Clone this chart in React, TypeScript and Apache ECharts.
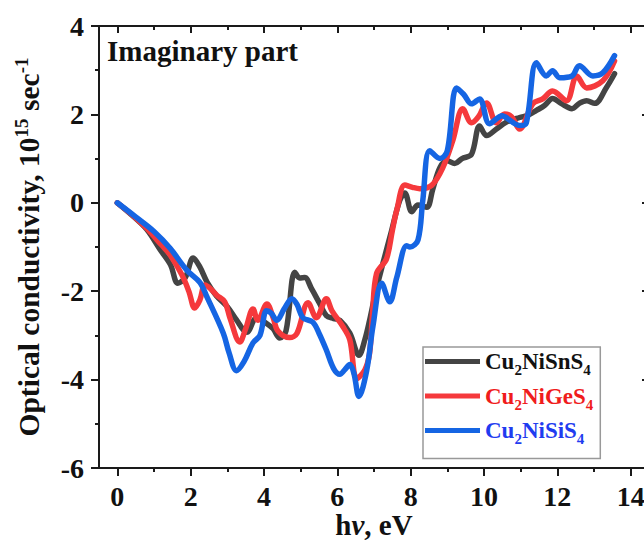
import React, { useEffect, useRef } from "react";
import * as echarts from "echarts";

const seriesNames = ["Cu2NiSnS4", "Cu2NiGeS4", "Cu2NiSiS4"];

const xSn = [0, 0.4, 0.8, 1.16, 1.45, 1.65, 1.85, 2.07, 2.25, 2.45, 2.7, 3.0, 3.25, 3.53, 3.8, 4.07, 4.25, 4.43, 4.6, 4.84, 4.97, 5.11, 5.3, 5.52, 5.7, 5.9, 6.07, 6.34, 6.59, 6.75, 6.88, 7.05, 7.24, 7.48, 7.7, 7.84, 8.03, 8.2, 8.44, 8.6, 8.8, 9.0, 9.2, 9.4, 9.66, 9.88, 10.07, 10.34, 10.6, 10.97, 11.2, 11.43, 11.65, 11.87, 12.1, 12.4, 12.6, 12.8, 13.02, 13.34, 13.56];
const ySn = [0, -0.28, -0.6, -1.05, -1.4, -1.82, -1.7, -1.25, -1.45, -1.8, -2.1, -2.35, -2.65, -2.93, -2.6, -2.73, -2.85, -3.06, -2.9, -1.57, -1.7, -1.69, -1.95, -2.28, -2.55, -2.62, -2.66, -2.95, -3.45, -3.1, -2.66, -2.0, -1.38, -0.63, 0.05, 0.22, -0.2, -0.05, -0.1, 0.3, 0.8, 0.95, 0.89, 1.0, 1.1, 1.74, 1.52, 1.67, 1.82, 1.93, 1.98, 2.09, 2.2, 2.36, 2.25, 2.13, 2.25, 2.31, 2.25, 2.61, 2.92];

const xGe = [0, 0.4, 0.8, 1.2, 1.44, 1.76, 1.95, 2.11, 2.25, 2.39, 2.55, 2.71, 2.93, 3.07, 3.34, 3.5, 3.7, 3.83, 4.08, 4.25, 4.38, 4.7, 4.9, 5.2, 5.43, 5.7, 5.85, 6.15, 6.34, 6.53, 6.75, 6.88, 6.96, 7.07, 7.34, 7.5, 7.62, 7.84, 8.05, 8.25, 8.58, 8.88, 9.15, 9.42, 9.66, 9.85, 10.07, 10.34, 10.56, 10.75, 10.97, 11.33, 11.6, 11.87, 12.25, 12.53, 12.8, 13.24, 13.56];
const yGe = [0, -0.27, -0.58, -0.95, -1.18, -1.63, -2.0, -2.38, -2.2, -1.86, -1.95, -2.09, -2.24, -2.6, -3.15, -2.85, -2.4, -2.66, -2.29, -2.6, -2.9, -3.05, -2.95, -2.26, -2.6, -2.17, -2.44, -2.8, -3.1, -3.98, -3.78, -3.4, -2.5, -1.6, -1.27, -0.63, -0.17, 0.4, 0.35, 0.32, 0.4, 0.8, 1.41, 2.13, 1.81, 1.95, 2.26, 1.81, 2.01, 1.95, 1.67, 2.24, 2.35, 2.53, 2.31, 2.87, 2.6, 2.76, 3.21];

const xSi = [0, 0.5, 1.0, 1.44, 1.9, 2.25, 2.45, 2.89, 3.05, 3.25, 3.45, 3.7, 3.89, 4.07, 4.2, 4.35, 4.55, 4.76, 4.9, 5.06, 5.33, 5.5, 5.7, 5.9, 6.07, 6.2, 6.34, 6.45, 6.59, 6.8, 6.97, 7.21, 7.43, 7.62, 7.89, 7.98, 8.2, 8.33, 8.52, 8.8, 9.0, 9.25, 9.45, 9.66, 9.88, 10.15, 10.5, 10.6, 10.97, 11.15, 11.43, 11.7, 11.87, 12.06, 12.4, 12.6, 12.97, 13.24, 13.56];
const ySi = [0, -0.32, -0.65, -1.03, -1.53, -1.8, -2.14, -2.95, -3.4, -3.8, -3.6, -3.17, -3.0, -2.44, -2.5, -2.66, -2.4, -2.17, -2.3, -2.6, -2.7, -2.95, -3.33, -3.75, -3.88, -3.78, -3.66, -3.85, -4.38, -3.8, -2.8, -1.82, -2.24, -1.69, -0.97, -1.0, -0.84, 0.05, 1.18, 1.0, 1.18, 2.6, 2.45, 2.24, 2.35, 1.79, 1.97, 1.93, 1.75, 1.8, 3.17, 2.87, 2.99, 2.83, 2.87, 3.1, 2.87, 2.94, 3.33];

const xMajorTicks = [0, 2, 4, 6, 8, 10, 12, 14];
const xMinorTicks = [1, 3, 5, 7, 9, 11, 13];

const lineColors = ["#444444", "#f5393c", "#1565e3"];
const FONT = '"Liberation Serif", "Times New Roman", serif';

const pairs = (xs: number[], ys: number[]) => xs.map((x, i) => [x, ys[i]]);

export default function App() {
  const ref = useRef<HTMLDivElement>(null);
  useEffect(() => {
    if (!ref.current) return;
    const chart = echarts.init(ref.current, null, { renderer: "svg" });
    const axisLineStyle = { color: "#1a1a1a", width: 2 };
    const baseX = { type: "value", min: -0.5, max: 14.5, gridIndex: 0, splitLine: { show: false } };
    const keyFor: Record<string, string> = { Cu2NiSnS4: "k", Cu2NiGeS4: "r", Cu2NiSiS4: "b" };
    const legendStyle = (color: string) => ({
      main: { color, fontSize: 23, fontWeight: "bold", fontFamily: FONT },
      sub: { color, fontSize: 15, fontWeight: "bold", fontFamily: FONT, padding: [17, 0, 0, 0] },
    });
    const lk = legendStyle("#111111");
    const lr = legendStyle("#f01c1c");
    const lb = legendStyle("#1f3cf0");
    chart.setOption({
      animation: false,
      backgroundColor: "#ffffff",
      title: {
        text: "Imaginary part",
        left: 107,
        top: 36,
        padding: 0,
        textStyle: { fontFamily: FONT, fontWeight: "bold", fontSize: 29, color: "#111" },
      },
      grid: { left: 99, top: 26, right: -5, bottom: 73, containLabel: false, outerBoundsMode: "none" },
      legend: {
        data: seriesNames,
        orient: "vertical",
        left: 423,
        top: 347,
        itemWidth: 55,
        itemHeight: 5,
        itemGap: 7,
        icon: "rect",
        padding: [3, 7, 12, 2],
        borderColor: "#999999",
        borderWidth: 1.5,
        formatter: (name: string) => {
          const k = keyFor[name];
          const m = name.match(/^Cu2Ni([A-Za-z]+)S4$/);
          const mid = m ? m[1] : "";
          return `{${k}m|Cu}{${k}s|2}{${k}m|Ni${mid}S}{${k}s|4}`;
        },
        textStyle: {
          fontFamily: FONT,
          fontWeight: "bold",
          fontSize: 23,
          rich: {
            km: lk.main, ks: lk.sub,
            rm: lr.main, rs: lr.sub,
            bm: lb.main, bs: lb.sub,
          },
        },
      },
      xAxis: [
        {
          ...baseX,
          position: "bottom",
          axisLine: { show: true, onZero: false, lineStyle: axisLineStyle },
          axisTick: { show: true, inside: false, length: 8, lineStyle: { width: 2, color: "#1a1a1a" }, customValues: xMajorTicks },
          axisLabel: { customValues: xMajorTicks, fontSize: 28, lineHeight: 22, fontWeight: "bold", fontFamily: FONT, color: "#111", margin: 17 },
          name: "h{i|ν}, eV",
          nameLocation: "middle",
          nameGap: 44,
          nameMoveOverlap: false,
          nameTextStyle: {
            fontSize: 29, lineHeight: 26, fontWeight: "bold", fontFamily: FONT, color: "#111",
            rich: { i: { fontSize: 29, lineHeight: 26, fontWeight: "bold", fontStyle: "italic", fontFamily: FONT, color: "#111" } },
          },
        },
        {
          ...baseX,
          position: "bottom",
          axisLine: { show: false, onZero: false },
          axisTick: { show: true, inside: false, length: 4, lineStyle: { width: 2, color: "#1a1a1a" }, customValues: xMinorTicks },
          axisLabel: { show: false },
        },
        {
          ...baseX,
          position: "top",
          axisLine: { show: true, onZero: false, lineStyle: axisLineStyle },
          axisTick: { show: true, inside: true, length: 7, lineStyle: { width: 2, color: "#1a1a1a" }, customValues: xMajorTicks },
          axisLabel: { show: false },
        },
        {
          ...baseX,
          position: "top",
          axisLine: { show: false, onZero: false },
          axisTick: { show: true, inside: true, length: 4, lineStyle: { width: 2, color: "#1a1a1a" }, customValues: xMinorTicks },
          axisLabel: { show: false },
        },
      ],
      yAxis: [
        {
          type: "value",
          min: -6,
          max: 4,
          interval: 2,
          position: "left",
          splitLine: { show: false },
          axisLine: { show: true, onZero: false, lineStyle: axisLineStyle },
          axisTick: { show: true, inside: false, length: 8, lineStyle: { width: 2, color: "#1a1a1a" } },
          minorTick: { show: true, splitNumber: 2, length: 4, lineStyle: { width: 2, color: "#1a1a1a" } },
          axisLabel: { fontSize: 28, fontWeight: "bold", fontFamily: FONT, color: "#111", margin: 15 },
          name: "Optical conductivity, 10{sup|15} sec{sup|-1}",
          nameLocation: "middle",
          nameRotate: 90,
          nameGap: 53,
          nameMoveOverlap: false,
          nameTextStyle: {
            fontSize: 29.5, fontWeight: "bold", fontFamily: FONT, color: "#111",
            rich: { sup: { fontSize: 19, fontWeight: "bold", fontFamily: FONT, color: "#111", padding: [0, 0, 15, 0] } },
          },
        },
        {
          type: "value",
          min: -6,
          max: 4,
          interval: 2,
          position: "right",
          splitLine: { show: false },
          axisLine: { show: true, onZero: false, lineStyle: axisLineStyle },
          axisTick: { show: true, inside: true, length: 7, lineStyle: { width: 2, color: "#1a1a1a" } },
          minorTick: { show: true, splitNumber: 2, length: 4, lineStyle: { width: 2, color: "#1a1a1a" } },
          axisLabel: { show: false },
        },
      ],
      series: [
        { name: seriesNames[0], data: pairs(xSn, ySn), color: lineColors[0] },
        { name: seriesNames[1], data: pairs(xGe, yGe), color: lineColors[1] },
        { name: seriesNames[2], data: pairs(xSi, ySi), color: lineColors[2] },
      ].map((s) => ({
        ...s,
        type: "line",
        xAxisIndex: 0,
        yAxisIndex: 0,
        showSymbol: false,
        smooth: 0.35,
        lineStyle: { width: 5.5, color: s.color, cap: "round", join: "round" },
        itemStyle: { color: s.color },
      })),
    });
    return () => chart.dispose();
  }, []);
  return (
    <div
      ref={ref}
      style={{ position: "fixed", left: 0, top: 0, width: 644, height: 541, background: "#fff" }}
    />
  );
}
